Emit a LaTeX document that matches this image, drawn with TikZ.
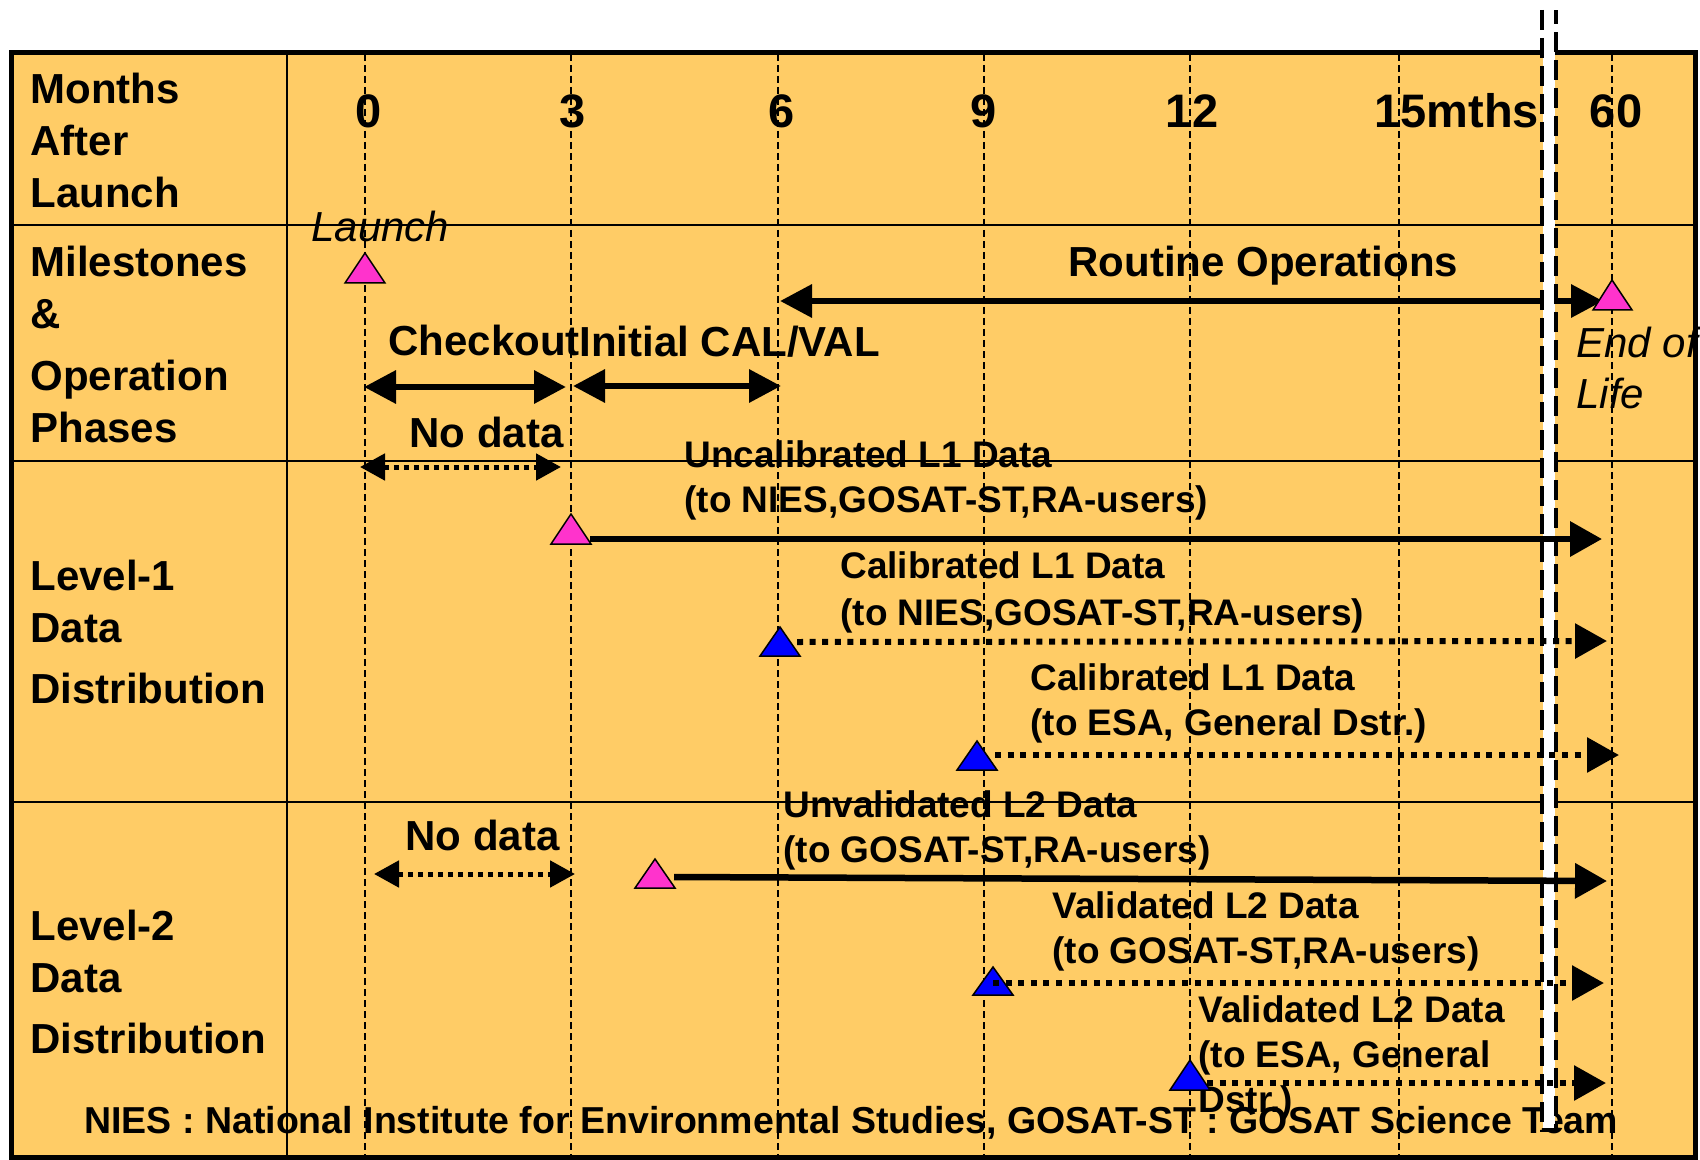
\documentclass[tikz,border=0pt]{standalone}
\usepackage{fontspec}
\setmainfont{Liberation Sans}
\usetikzlibrary{arrows.meta}
\definecolor{chartbg}{RGB}{255,204,102}
\definecolor{milemag}{RGB}{255,51,204}
\definecolor{mileblue}{RGB}{0,0,255}
\tikzset{
  hdr/.style={font=\fontsize{21}{26}\selectfont\bfseries, anchor=base west, inner sep=0pt, align=left},
  lbl/.style={font=\fontsize{18.5}{22.5}\selectfont\bfseries, anchor=base west, inner sep=0pt, align=left},
  num/.style={font=\fontsize{23.5}{28}\selectfont\bfseries, anchor=base, inner sep=0pt},
  itl/.style={font=\fontsize{21}{25}\selectfont\itshape, anchor=base west, inner sep=0pt, align=left},
  grid/.style={line width=0.9pt, dash pattern=on 3.5pt off 2pt},
  phase/.style={line width=3.25pt, {Triangle[length=16pt,width=16pt]}-{Triangle[length=16pt,width=16pt]}},
  feed/.style={line width=3.25pt, -{Triangle[length=16pt,width=17pt]}},
  dotfeed/.style={line width=3pt, dash pattern=on 3pt off 3.3pt, -{Triangle[length=16pt,width=17pt]}},
  nodata/.style={line width=2.5pt, dash pattern=on 2.5pt off 2.5pt, {Triangle[length=12.5pt,width=13pt]}-{Triangle[length=12.5pt,width=13pt]}},
  tri/.style={draw, line width=0.75pt, line join=miter},
}
\begin{document}
\begin{tikzpicture}[x=0.5pt,y=-0.5pt]
\useasboundingbox (0,0) rectangle (1700,1160);
\fill[white] (0,0) rectangle (1700,1160);
\draw[line width=2.5pt, fill=chartbg] (11.5,52.5) rectangle (1695,1157.5);
\draw[line width=1.25pt] (11,225) -- (1695,225);
\draw[line width=1.25pt] (11,461) -- (1695,461);
\draw[line width=1.25pt] (11,802) -- (1695,802);
\draw[line width=1pt] (287,52) -- (287,1158);
\draw[grid] (365,54) -- (365,1156);
\draw[grid] (571,54) -- (571,1156);
\draw[grid] (778,54) -- (778,1156);
\draw[grid] (984,54) -- (984,1156);
\draw[grid] (1190,54) -- (1190,1156);
\draw[grid] (1399,54) -- (1399,1156);
\draw[grid] (1612,54) -- (1612,1156);
% row heads
\node[hdr] (hdrMonths) at (30,208) {Months\\After\\Launch};
\node[hdr] (hdrMile) at (30,442) {Milestones\\\&\\[5pt]Operation\\Phases};
\node[hdr] (hdrLone) at (30,703) {Level-1\\Data\\[4.5pt]Distribution};
\node[hdr] (hdrLtwo) at (30,1053) {Level-2\\Data\\[4.5pt]Distribution};
% month axis
\node[num] (m0) at (369,128) {0};
\node[num] (m3) at (573,128) {3};
\node[num] (m6) at (782,128) {6};
\node[num] (m9) at (984,128) {9};
\node[num] (m12) at (1192,128) {12};
\node[num, anchor=base west] (m15) at (1374,128) {15mths};
\node[num] (m60) at (1616,128) {60};
% milestones and phases
\node[itl] (lblLaunch) at (311,242) {Launch};
\node[hdr] (lblRoutine) at (1068,277) {Routine Operations};
\node[hdr] (lblCheckout) at (388,355) {Checkout};
\node[hdr] (lblCalVal) at (579,357) {Initial CAL/VAL};
\node[itl] (lblEol) at (1576,408) {End of\\Life};
\node[hdr] (lblNoDataA) at (409,447) {No data};
\node[hdr] (lblNoDataB) at (405,850) {No data};
% data products
\node[lbl] (lblUncal) at (684,512) {Uncalibrated L1 Data\\(to NIES,GOSAT-ST,RA-users)};
\node[lbl, font=\fontsize{18.5}{23.5}\selectfont\bfseries] (lblCalA) at (840,625) {Calibrated L1 Data\\(to NIES,GOSAT-ST,RA-users)};
\node[lbl] (lblCalB) at (1030,735) {Calibrated L1 Data\\(to ESA, General Dstr.)};
\node[lbl] (lblUnval) at (783,862) {Unvalidated L2 Data\\(to GOSAT-ST,RA-users)};
\node[lbl] (lblValA) at (1052,963) {Validated L2 Data\\(to GOSAT-ST,RA-users)};
\node[lbl] (lblValB) at (1198,1112) {Validated L2 Data\\(to ESA, General\\Dstr.)};
\node[lbl, font=\fontsize{18.75}{22.5}\selectfont\bfseries] (lblFooter) at (84,1133) {NIES : National Institute for Environmental Studies, GOSAT-ST : GOSAT Science Team};
% phase arrows
\coordinate (rtL) at (780,301);
\coordinate (rtR) at (1603,301);
\coordinate (ckL) at (364,387);
\coordinate (ckR) at (566,387);
\coordinate (cvL) at (573,386);
\coordinate (cvR) at (781,386);
\draw[phase] (rtL) -- (rtR);
\draw[phase] (ckL) -- (ckR);
\draw[phase] (cvL) -- (cvR);
\draw[tri, fill=milemag] (365,253) -- (385,283) -- (345,283) -- cycle;
\draw[tri, fill=milemag] (1612,280) -- (1632,310) -- (1593,310) -- cycle;
% break in the time axis
\fill[white] (1543,10) rectangle (1555,1130);
\draw[line width=2.25pt, dash pattern=on 10pt off 4pt] (1542,10) -- (1542,1130) -- (1556,1130) -- (1556,10);
% distribution arrows
\coordinate (ndAL) at (360,467);
\coordinate (ndAR) at (561,467);
\coordinate (ndBL) at (374,874);
\coordinate (ndBR) at (575,874);
\coordinate (uncS) at (590,539);
\coordinate (uncE) at (1602,539);
\coordinate (calAS) at (797,642);
\coordinate (calAE) at (1607,641);
\coordinate (calBS) at (995,755);
\coordinate (calBE) at (1619,755);
\coordinate (unvS) at (674,877);
\coordinate (unvE) at (1607,881);
\coordinate (valAS) at (993,983);
\coordinate (valAE) at (1604,983);
\coordinate (valBS) at (1207,1083);
\coordinate (valBE) at (1606,1083);
\draw[nodata] (ndAL) -- (ndAR);
\draw[nodata] (ndBL) -- (ndBR);
\draw[feed] (uncS) -- (uncE);
\draw[feed] (unvS) -- (unvE);
\draw[dotfeed] (calAS) -- (calAE);
\draw[dotfeed] (calBS) -- (calBE);
\draw[dotfeed] (valBS) -- (valBE);
\draw[tri, fill=milemag] (571,514) -- (591,544) -- (551,544) -- cycle;
\draw[tri, fill=milemag] (655,859) -- (675,888) -- (635,888) -- cycle;
\draw[tri, fill=mileblue] (780,627) -- (800,656) -- (760,656) -- cycle;
\draw[tri, fill=mileblue] (977,741) -- (997,770) -- (957,770) -- cycle;
\draw[tri, fill=mileblue] (993,967) -- (1013,995) -- (973,995) -- cycle;
\draw[tri, fill=mileblue] (1190,1060) -- (1210,1090) -- (1170,1090) -- cycle;
\draw[dotfeed] (valAS) -- (valAE);
\end{tikzpicture}
\end{document}
